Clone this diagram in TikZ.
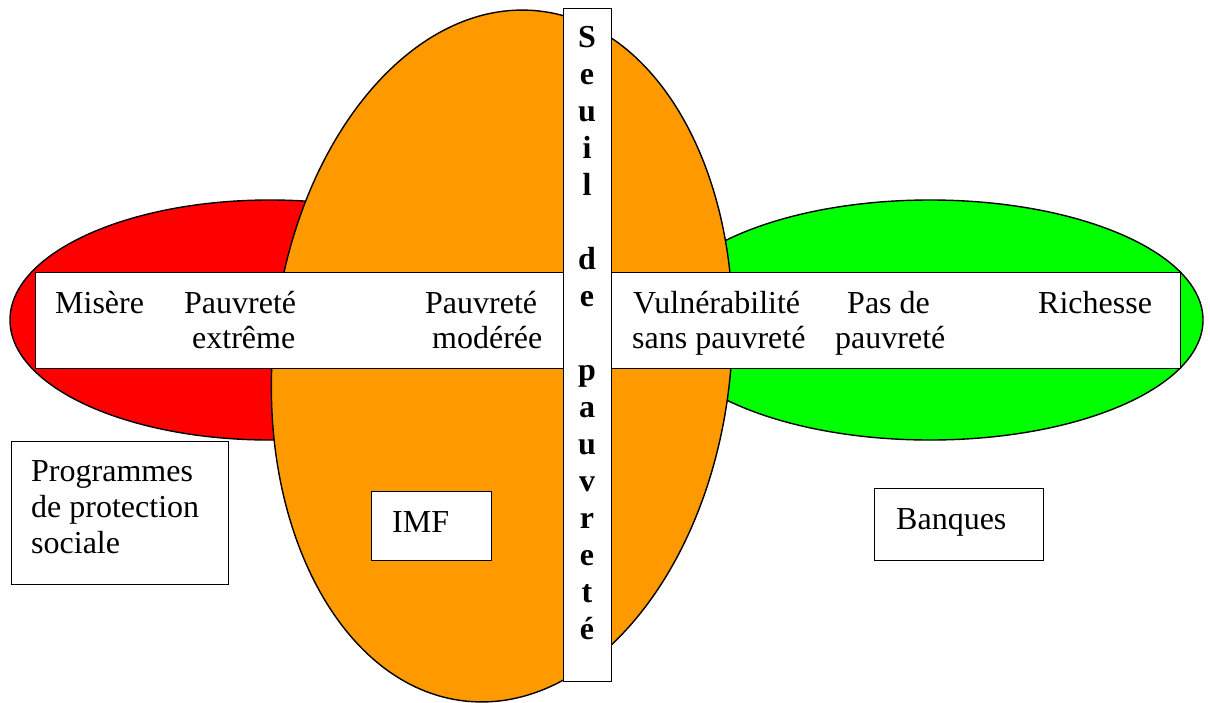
\documentclass[tikz,border=0pt]{standalone}
\usepackage{fontspec}
\setmainfont{Liberation Serif}
\begin{document}
\begin{tikzpicture}[x=1pt,y=-1pt,
  outline/.style={draw=black,line width=1.4pt},
  band/.style={outline,fill=white,inner sep=0pt,anchor=north west},
  txt/.style={font=\fontsize{32}{36}\selectfont,inner sep=0pt,anchor=base west},
  vtxt/.style={font=\fontsize{32}{36}\selectfont\bfseries,inner sep=0pt,anchor=base}]
\useasboundingbox (0,0) rectangle (1210,702);
\definecolor{redfill}{RGB}{255,0,0}
\definecolor{orangefill}{RGB}{255,153,0}
\definecolor{greenfill}{RGB}{0,255,0}
% ellipses
\draw[outline,fill=redfill] (270,320) ellipse [x radius=260pt, y radius=120pt];
\draw[outline,fill=greenfill] (930,320) ellipse [x radius=273pt, y radius=120pt];
\draw[outline,fill=orangefill,rotate around={-6:(502,356)}] (502,356) ellipse [x radius=229pt, y radius=347pt];
% horizontal band
\node[band,minimum width=1145pt,minimum height=96pt] (hband) at (35,272) {};
% vertical band
\node[band,minimum width=48pt,minimum height=673pt] (vband) at (563,8) {};
% band texts
\node[txt] (t1) at (55,313) {Misère};
\node[txt] (t2a) at (184,313) {Pauvreté};
\node[txt] (t2b) at (192,348) {extrême};
\node[txt] (t3a) at (425,313) {Pauvreté};
\node[txt] (t3b) at (432,348) {modérée};
\node[txt] (t4a) at (633,313) {Vulnérabilité};
\node[txt] (t4b) at (632,348) {sans pauvreté};
\node[txt] (t5a) at (847,313) {Pas de};
\node[txt] (t5b) at (835,348) {pauvreté};
\node[txt] (t6) at (1038,313) {Richesse};
% vertical text
\foreach \c [count=\i from 0] in {S,e,u,i,l,{},d,e,{},p,a,u,v,r,e,t,é}
  \node[vtxt] (v\i) at (587,47+37*\i) {\c};
% boxes
\node[band,minimum width=217pt,minimum height=143pt] (prog) at (11,441) {};
\node[txt] (prog1) at (31,481) {Programmes};
\node[txt] (prog2) at (31,517) {de protection};
\node[txt] (prog3) at (31,553) {sociale};
\node[band,minimum width=120pt,minimum height=69pt] (imf) at (371,491) {};
\node[txt] (imft) at (392,532) {IMF};
\node[band,minimum width=169pt,minimum height=72pt] (banq) at (874,488) {};
\node[txt] (banqt) at (896,529) {Banques};
\end{tikzpicture}
\end{document}
